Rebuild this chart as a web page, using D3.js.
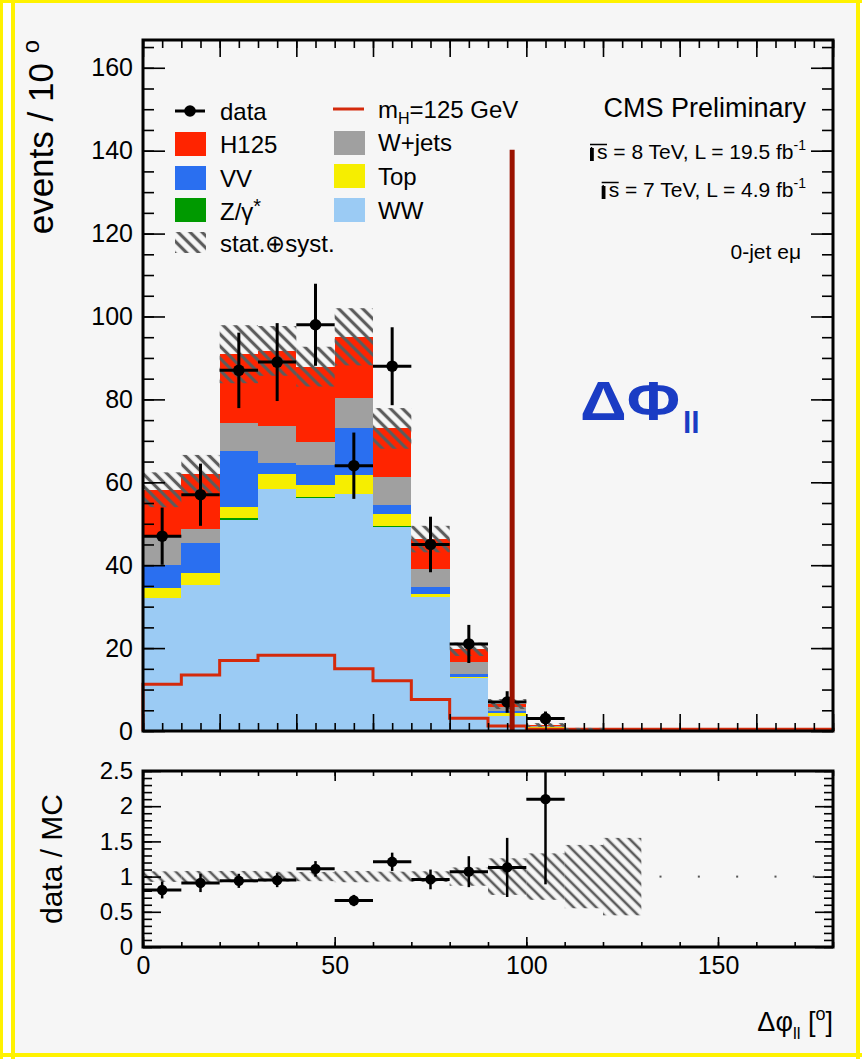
<!DOCTYPE html>
<html>
<head>
<meta charset="utf-8">
<script src="https://cdn.jsdelivr.net/npm/d3@7"></script>
<style>
  body { margin: 0; background: #fff; }
  svg { display: block; }
  text { font-family: "Liberation Sans", Arial, Helvetica, sans-serif; fill: #000; }
</style>
</head>
<body>
<svg id="chart" width="862" height="1059"></svg>
<script>
// ---- binning: Δφ_ll in 10° bins from 0° to 180° ----
const binLow = [0, 10, 20, 30, 40, 50, 60, 70, 80, 90, 100, 110, 120, 130, 140, 150, 160, 170];
const binWidth = 10;

// ---- background expectations (events / bin), stacked bottom to top ----
const ww     = [32.1, 35.2, 50.9, 58.3, 56.1, 57.2, 49.1, 32.4, 12.7, 3.5, 0.8, 0.3, 0.1, 0, 0, 0, 0, 0];
const zg     = [0.0, 0.1, 0.4, 0.0, 0.3, 0.0, 0.4, 0.0, 0.0, 0.0, 0.0, 0.0, 0.0, 0, 0, 0, 0, 0];
const topBkg = [2.5, 2.9, 2.7, 3.7, 3.0, 4.6, 2.9, 0.6, 0.4, 0.9, 0.15, 0.05, 0.05, 0, 0, 0, 0, 0];
const vv     = [5.4, 7.1, 13.6, 2.6, 4.8, 11.4, 2.1, 1.8, 0.7, 0.5, 0.1, 0.05, 0.0, 0, 0, 0, 0, 0];
const wjets  = [6.8, 3.4, 6.6, 9.0, 5.6, 7.1, 6.8, 4.2, 2.9, 1.0, 0.2, 0.05, 0.0, 0, 0, 0, 0, 0];
const h125   = [11.4, 13.2, 16.7, 18.1, 18.1, 14.8, 11.7, 7.3, 3.0, 0.6, 0.2, 0.05, 0.0, 0, 0, 0, 0, 0];

// signal-only histogram (m_H = 125 GeV), drawn as a line
const mhLine = [11.3, 13.5, 17.0, 18.3, 18.3, 15.0, 12.1, 7.6, 3.1, 1.2, 0.4, 0.4, 0.4, 0.4, 0.4, 0.4, 0.4, 0.4];

// total uncertainty (stat ⊕ syst) on the summed expectation
const totUnc = [4.2, 4.7, 7.0, 6.0, 4.8, 6.9, 4.9, 3.2, 1.6, 1.2, 0.45, 0.25, 0.1, 0, 0, 0, 0, 0];

// observed data
const dataVal = [47, 57, 87, 89, 98, 64, 88, 45, 21, 7, 3, 0, 0, 0, 0, 0, 0, 0];
const dataErr = [6.9, 7.5, 9.1, 9.4, 9.9, 8.0, 9.4, 6.7, 4.6, 2.6, 1.7, 0, 0, 0, 0, 0, 0, 0];

// ratio panel: data / MC with its error, and relative band width
const ratioVal = [0.81, 0.91, 0.94, 0.95, 1.11, 0.66, 1.21, 0.96, 1.07, 1.13, 2.1];
const ratioErr = [0.12, 0.13, 0.10, 0.10, 0.11, 0.08, 0.13, 0.14, 0.22, 0.42, 1.21];
const ratioBand = [0.075, 0.08, 0.08, 0.07, 0.065, 0.08, 0.07, 0.075, 0.13, 0.26, 0.33, 0.45, 0.55];

// vertical marker line (position in degrees, height in events)
const cutX = 96.3;
const cutTop = 140.2;

// axis ticks and labels
const yMainTicks = [0, 20, 40, 60, 80, 100, 120, 140, 160];
const ratioYTicks = [0, 0.5, 1, 1.5, 2, 2.5];
const ratioXTicks = [0, 50, 100, 150];

const seriesKeys = ["WW", "Zg", "Top", "VV", "Wjets", "H125"];
const seriesColor = {
  WW: "#9bcbf4", Zg: "#009a00", Top: "#f6ee00", VV: "#2a6ff0", Wjets: "#a0a0a0", H125: "#ff2400"
};

// ---------------------------------------------------------------
const svg = d3.select("#chart");
const W = 862, H = 1059;

// page background and yellow rules
svg.append("rect").attr("width", W).attr("height", H).attr("fill", "#ffffff");
svg.append("rect").attr("x", 15).attr("y", 3).attr("width", 841).attr("height", 1050).attr("fill", "#f6f6f6");
const yellow = "#fff200";
[[0, 0, W, 3], [0, 0, 3, H], [11, 0, 4, H], [856, 0, 4, H], [0, 1053, W, 4]].forEach(r => {
  svg.append("rect").attr("x", r[0]).attr("y", r[1]).attr("width", r[2]).attr("height", r[3]).attr("fill", yellow);
});

const defs = svg.append("defs");
function hatch(id, gap, width) {
  const p = defs.append("pattern").attr("id", id)
    .attr("patternUnits", "userSpaceOnUse")
    .attr("width", gap).attr("height", gap)
    .attr("patternTransform", "rotate(-45)");
  p.append("line").attr("x1", gap / 2).attr("x2", gap / 2).attr("y1", -1).attr("y2", gap + 1)
    .attr("stroke", "#5c5c5c").attr("stroke-width", width);
}
hatch("hatchMain", 8.5, 3.2);
hatch("hatchRatio", 8, 2.6);

// ---------------- main panel ----------------
const xMain = d3.scaleLinear().domain([0, 180]).range([143, 833]);
const yMain = d3.scaleLinear().domain([0, 166.7]).range([731, 40]);

const rows = binLow.map((lo, i) => ({
  lo, WW: ww[i], Zg: zg[i], Top: topBkg[i], VV: vv[i], Wjets: wjets[i], H125: h125[i]
}));
const stacked = d3.stack().keys(seriesKeys)(rows);

const gStack = svg.append("g").attr("shape-rendering", "crispEdges");
stacked.forEach(layer => {
  gStack.selectAll(null).data(layer).enter().append("rect")
    .attr("x", d => xMain(d.data.lo))
    .attr("width", d => xMain(d.data.lo + binWidth) - xMain(d.data.lo))
    .attr("y", d => yMain(d[1]))
    .attr("height", d => Math.max(0, yMain(d[0]) - yMain(d[1])))
    .attr("fill", seriesColor[layer.key]);
});

// signal line as a step histogram
const stepPts = [[0, 0]];
binLow.forEach((lo, i) => { stepPts.push([lo, mhLine[i]]); stepPts.push([lo + binWidth, mhLine[i]]); });
stepPts.push([180, 0]);
svg.append("path")
  .attr("d", d3.line().x(d => xMain(d[0])).y(d => yMain(d[1]))(stepPts))
  .attr("fill", "none").attr("stroke", "#d42a0c").attr("stroke-width", 3);

// uncertainty band on the total
const totals = stacked[stacked.length - 1].map(d => d[1]);
const bandBins = binLow.map((lo, i) => ({ lo, tot: totals[i], unc: totUnc[i] })).filter(d => d.unc > 0);
svg.append("g").selectAll("rect").data(bandBins).enter().append("rect")
  .attr("x", d => xMain(d.lo))
  .attr("width", d => xMain(d.lo + binWidth) - xMain(d.lo))
  .attr("y", d => yMain(d.tot + d.unc))
  .attr("height", d => yMain(d.tot - d.unc) - yMain(d.tot + d.unc))
  .attr("fill", "url(#hatchMain)");

// data points
const gData = svg.append("g");
binLow.forEach((lo, i) => {
  if (dataVal[i] <= 0) return;
  const cx = xMain(lo + binWidth / 2);
  gData.append("line").attr("x1", cx).attr("x2", cx)
    .attr("y1", yMain(dataVal[i] - dataErr[i])).attr("y2", yMain(dataVal[i] + dataErr[i]))
    .attr("stroke", "#000").attr("stroke-width", 3);
  gData.append("line").attr("x1", xMain(lo)).attr("x2", xMain(lo + binWidth))
    .attr("y1", yMain(dataVal[i])).attr("y2", yMain(dataVal[i]))
    .attr("stroke", "#000").attr("stroke-width", 3);
  gData.append("circle").attr("cx", cx).attr("cy", yMain(dataVal[i])).attr("r", 5.8).attr("fill", "#000");
});

// vertical marker line
svg.append("line")
  .attr("x1", xMain(cutX)).attr("x2", xMain(cutX))
  .attr("y1", yMain(0)).attr("y2", yMain(cutTop))
  .attr("stroke", "#9a1200").attr("stroke-width", 5);

// axes of the main panel
function styleAxis(g, fontSize) {
  g.select(".domain").remove();
  g.selectAll(".tick line").attr("stroke", "#000").attr("stroke-width", 1.6);
  g.selectAll("text").attr("font-size", fontSize).attr("font-family", '"Liberation Sans", Arial, sans-serif').attr("fill", "#000");
}
const minorMainY = d3.range(0, 166, 5);
const minorMainX = d3.range(0, 181, 5);
const majorMainX = d3.range(0, 181, 20);

svg.append("g").attr("transform", "translate(143,0)")
  .call(d3.axisLeft(yMain).tickValues(minorMainY).tickSize(-11).tickFormat(""))
  .call(g => styleAxis(g, 0));
svg.append("g").attr("transform", "translate(143,0)")
  .call(d3.axisLeft(yMain).tickValues(yMainTicks).tickSize(-22).tickPadding(10).tickFormat(d3.format("d")))
  .call(g => styleAxis(g, 25));
svg.append("g").attr("transform", "translate(833,0)")
  .call(d3.axisRight(yMain).tickValues(minorMainY).tickSize(-11).tickFormat(""))
  .call(g => styleAxis(g, 0));
svg.append("g").attr("transform", "translate(833,0)")
  .call(d3.axisRight(yMain).tickValues(yMainTicks).tickSize(-22).tickFormat(""))
  .call(g => styleAxis(g, 0));
svg.append("g").attr("transform", "translate(0,731)")
  .call(d3.axisBottom(xMain).tickValues(minorMainX).tickSize(-8).tickFormat(""))
  .call(g => styleAxis(g, 0));
svg.append("g").attr("transform", "translate(0,731)")
  .call(d3.axisBottom(xMain).tickValues(majorMainX).tickSize(-17).tickFormat(""))
  .call(g => styleAxis(g, 0));
svg.append("g").attr("transform", "translate(0,40)")
  .call(d3.axisTop(xMain).tickValues(minorMainX).tickSize(-8).tickFormat(""))
  .call(g => styleAxis(g, 0));
svg.append("g").attr("transform", "translate(0,40)")
  .call(d3.axisTop(xMain).tickValues(majorMainX).tickSize(-17).tickFormat(""))
  .call(g => styleAxis(g, 0));

svg.append("rect").attr("x", 143).attr("y", 40).attr("width", 690).attr("height", 691)
  .attr("fill", "none").attr("stroke", "#000").attr("stroke-width", 3);

// y title
const yTitle = svg.append("text").attr("transform", "translate(53,40) rotate(-90)")
  .attr("text-anchor", "end").attr("font-size", 35);
yTitle.append("tspan").text("events / 10 ");
yTitle.append("tspan").attr("font-size", 24).attr("dy", -14).text("o");

// legend
const leg = svg.append("g");
const legFont = 24;
function legText(x, y, parts) {
  const t = leg.append("text").attr("x", x).attr("y", y).attr("font-size", legFont);
  parts.forEach(p => {
    const s = t.append("tspan").text(p.t);
    if (p.dy) s.attr("dy", p.dy);
    if (p.fs) s.attr("font-size", p.fs);
  });
}
// column 1
leg.append("line").attr("x1", 175).attr("x2", 205).attr("y1", 111).attr("y2", 111).attr("stroke", "#000").attr("stroke-width", 3);
leg.append("circle").attr("cx", 190).attr("cy", 111).attr("r", 5.8).attr("fill", "#000");
legText(220, 120, [{ t: "data" }]);
[["H125", 132], ["VV", 166], ["Zg", 198]].forEach(e => {
  leg.append("rect").attr("x", 175).attr("y", e[1]).attr("width", 31).attr("height", 24).attr("fill", seriesColor[e[0]]);
});
legText(220, 153, [{ t: "H125" }]);
legText(220, 187, [{ t: "VV" }]);
legText(220, 220, [{ t: "Z/γ" }, { t: "*", dy: -7, fs: 20 }]);
leg.append("rect").attr("x", 175).attr("y", 232).attr("width", 31).attr("height", 21).attr("fill", "url(#hatchMain)");
legText(220, 252, [{ t: "stat.⊕syst." }]);
// column 2
leg.append("line").attr("x1", 333).attr("x2", 364).attr("y1", 109).attr("y2", 109).attr("stroke", "#d42a0c").attr("stroke-width", 3);
legText(378, 118, [{ t: "m" }, { t: "H", dy: 6, fs: 16 }, { t: "=125 GeV", dy: -6 }]);
[["Wjets", 131], ["Top", 164], ["WW", 198]].forEach(e => {
  leg.append("rect").attr("x", 334).attr("y", e[1]).attr("width", 31).attr("height", 24).attr("fill", seriesColor[e[0]]);
});
legText(378, 151, [{ t: "W+jets" }]);
legText(378, 185, [{ t: "Top" }]);
legText(378, 219, [{ t: "WW" }]);

// labels at the top right
svg.append("text").attr("x", 806).attr("y", 117).attr("text-anchor", "end").attr("font-size", 27).text("CMS Preliminary");
function lumiLine(y, txt) {
  const t = svg.append("text").attr("x", 806).attr("y", y).attr("text-anchor", "end").attr("font-size", 21);
  t.append("tspan").text(txt);
  t.append("tspan").attr("font-size", 14).attr("dy", -9).text("-1");
  const bb = t.node().getBBox();
  const x0 = bb.x - 7;
  svg.append("path")
    .attr("d", `M${x0 + 1.5},${y + 1} L${x0 + 1.5},${y - 12} M${x0},${y - 14.5} L${x0 + 17},${y - 14.5}`)
    .attr("stroke", "#000").attr("fill", "none").attr("stroke-width", 1.4);
  svg.append("rect").attr("x", x0).attr("y", y - 11).attr("width", 3.8).attr("height", 13).attr("fill", "#000");
}
lumiLine(159, "s = 8 TeV, L = 19.5 fb");
lumiLine(197, "s = 7 TeV, L = 4.9 fb");
svg.append("text").attr("x", 801).attr("y", 259).attr("text-anchor", "end").attr("font-size", 21).text("0-jet eμ");

// large variable label
svg.append("text").attr("x", 580).attr("y", 420)
  .attr("font-weight", "bold").attr("font-size", 56)
  .attr("textLength", 100).attr("lengthAdjust", "spacingAndGlyphs")
  .style("fill", "#1a3cc4").text("ΔΦ");
svg.append("text").attr("x", 683).attr("y", 433)
  .attr("font-weight", "bold").attr("font-size", 30)
  .style("fill", "#1a3cc4").text("ll");

// ---------------- ratio panel ----------------
const yRat = d3.scaleLinear().domain([0, 2.5]).range([947, 771]);

// relative uncertainty band around 1
svg.append("g").selectAll("rect").data(ratioBand).enter().append("rect")
  .attr("x", (d, i) => xMain(binLow[i]))
  .attr("width", (d, i) => xMain(binLow[i] + binWidth) - xMain(binLow[i]))
  .attr("y", d => yRat(1 + d))
  .attr("height", d => yRat(1 - d) - yRat(1 + d))
  .attr("fill", "url(#hatchRatio)");
// empty bins: zero-width band at 1
svg.append("g").selectAll("rect").data(binLow.slice(ratioBand.length)).enter().append("rect")
  .attr("x", lo => xMain(lo + binWidth / 2) - 1).attr("y", yRat(1) - 1)
  .attr("width", 2).attr("height", 2).attr("fill", "#555");

const gRat = svg.append("g");
ratioVal.forEach((v, i) => {
  const lo = binLow[i];
  const cx = xMain(lo + binWidth / 2);
  gRat.append("line").attr("x1", cx).attr("x2", cx)
    .attr("y1", yRat(Math.max(0, v - ratioErr[i]))).attr("y2", yRat(Math.min(2.5, v + ratioErr[i])))
    .attr("stroke", "#000").attr("stroke-width", 2.5);
  gRat.append("line").attr("x1", xMain(lo)).attr("x2", xMain(lo + binWidth))
    .attr("y1", yRat(v)).attr("y2", yRat(v)).attr("stroke", "#000").attr("stroke-width", 3);
  gRat.append("circle").attr("cx", cx).attr("cy", yRat(v)).attr("r", 5.2).attr("fill", "#000");
});

const minorRatY = d3.range(0, 2.51, 0.1);
const minorRatX = d3.range(0, 181, 10);
svg.append("g").attr("transform", "translate(143,0)")
  .call(d3.axisLeft(yRat).tickValues(minorRatY).tickSize(-9).tickFormat(""))
  .call(g => styleAxis(g, 0));
svg.append("g").attr("transform", "translate(143,0)")
  .call(d3.axisLeft(yRat).tickValues(ratioYTicks).tickSize(-18).tickPadding(10).tickFormat(d => String(d)))
  .call(g => styleAxis(g, 24));
svg.append("g").attr("transform", "translate(833,0)")
  .call(d3.axisRight(yRat).tickValues(minorRatY).tickSize(-9).tickFormat(""))
  .call(g => styleAxis(g, 0));
svg.append("g").attr("transform", "translate(833,0)")
  .call(d3.axisRight(yRat).tickValues(ratioYTicks).tickSize(-18).tickFormat(""))
  .call(g => styleAxis(g, 0));
svg.append("g").attr("transform", "translate(0,947)")
  .call(d3.axisBottom(xMain).tickValues(minorRatX).tickSize(-5).tickFormat(""))
  .call(g => styleAxis(g, 0));
svg.append("g").attr("transform", "translate(0,947)")
  .call(d3.axisBottom(xMain).tickValues(ratioXTicks).tickSize(-10).tickPadding(9).tickFormat(d3.format("d")))
  .call(g => styleAxis(g, 25));
svg.append("g").attr("transform", "translate(0,771)")
  .call(d3.axisTop(xMain).tickValues(minorRatX).tickSize(-5).tickFormat(""))
  .call(g => styleAxis(g, 0));
svg.append("g").attr("transform", "translate(0,771)")
  .call(d3.axisTop(xMain).tickValues(ratioXTicks).tickSize(-10).tickFormat(""))
  .call(g => styleAxis(g, 0));

svg.append("rect").attr("x", 143).attr("y", 771).attr("width", 690).attr("height", 176)
  .attr("fill", "none").attr("stroke", "#000").attr("stroke-width", 3);

// ratio y title
svg.append("text").attr("transform", "translate(62,859) rotate(-90)")
  .attr("text-anchor", "middle").attr("font-size", 30).text("data / MC");

// x title
const xTitle = svg.append("text").attr("x", 833).attr("y", 1031).attr("text-anchor", "end").attr("font-size", 27);
xTitle.append("tspan").text("Δφ");
xTitle.append("tspan").attr("font-size", 17).attr("dy", 8).text("ll");
xTitle.append("tspan").attr("dy", -8).text(" [");
xTitle.append("tspan").attr("font-size", 18).attr("dy", -11).text("o");
xTitle.append("tspan").attr("dy", 11).text("]");
</script>
</body>
</html>
